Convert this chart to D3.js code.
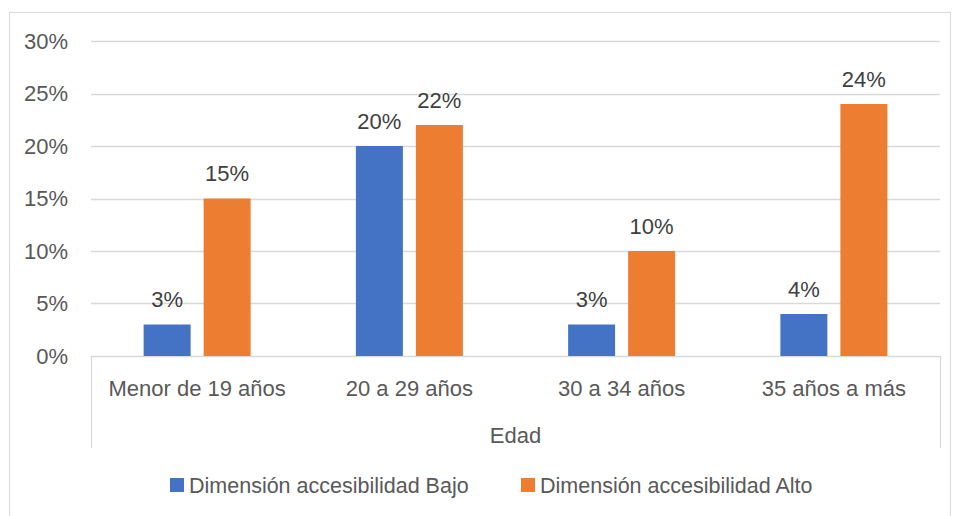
<!DOCTYPE html>
<html>
<head>
<meta charset="utf-8">
<script src="https://cdn.jsdelivr.net/npm/d3@7"></script>
<style>
  body { margin: 0; background: #fff; }
  svg text { font-family: "Liberation Sans", Arial, sans-serif; fill: #595959; }
</style>
</head>
<body>
<div id="chart"></div>
<script>
(function () {
    // Chart data
    const categories = ["Menor de 19 años", "20 a 29 años", "30 a 34 años", "35 años a más"];
    const seriesNames = ["Dimensión accesibilidad Bajo", "Dimensión accesibilidad Alto"];
    const bajoValues = [0.03, 0.20, 0.03, 0.04];
    const altoValues = [0.15, 0.22, 0.10, 0.24];
    const yTicks = [0, 0.05, 0.10, 0.15, 0.20, 0.25, 0.30];
    const colors = ["#4472C4", "#ED7D31"];

    const width = 956, height = 516;
    const plot = { left: 91, right: 940, top: 41, bottom: 356 };

    const svg = d3.select("#chart")
        .append("svg")
        .attr("width", width)
        .attr("height", height);

    // Outer frame
    svg.append("rect")
        .attr("x", 9.5).attr("y", 12.5)
        .attr("width", 941).attr("height", 510)
        .attr("fill", "none")
        .attr("stroke", "#D9D9D9");

    const x0 = d3.scaleBand()
        .domain(categories)
        .range([plot.left, plot.right])
        .paddingInner(0.496)
        .paddingOuter(0.248);

    const x1 = d3.scaleBand()
        .domain(seriesNames)
        .range([0, x0.bandwidth()])
        .paddingInner(0.217);

    const y = d3.scaleLinear()
        .domain([0, 0.3])
        .range([plot.bottom, plot.top]);

    // Gridlines
    svg.append("g")
        .selectAll("line")
        .data(yTicks)
        .enter()
        .append("line")
        .attr("x1", plot.left).attr("x2", plot.right)
        .attr("y1", d => Math.round(y(d)) + 0.5)
        .attr("y2", d => Math.round(y(d)) + 0.5)
        .attr("stroke", "#D9D9D9")
        .attr("stroke-width", 1.3);

    // Y tick labels
    svg.append("g")
        .selectAll("text")
        .data(yTicks)
        .enter()
        .append("text")
        .attr("x", 68)
        .attr("y", d => y(d))
        .attr("dy", "0.35em")
        .attr("text-anchor", "end")
        .attr("font-size", 22)
        .text(d => d3.format(".0%")(d));

    // Category axis box (vertical edges)
    svg.append("g")
        .selectAll("line")
        .data([plot.left, plot.right])
        .enter()
        .append("line")
        .attr("x1", d => d + 0.5).attr("x2", d => d + 0.5)
        .attr("y1", plot.bottom).attr("y2", 448)
        .attr("stroke", "#D9D9D9")
        .attr("stroke-width", 1.3);

    // Bars
    const rows = categories.map((c, i) => ({ cat: c, values: [bajoValues[i], altoValues[i]] }));

    const groups = svg.append("g")
        .selectAll("g")
        .data(rows)
        .enter()
        .append("g")
        .attr("transform", d => `translate(${x0(d.cat)},0)`);

    groups.selectAll("rect")
        .data(d => d.values.map((v, j) => ({ s: seriesNames[j], v: v, j: j })))
        .enter()
        .append("rect")
        .attr("x", d => x1(d.s))
        .attr("y", d => y(d.v))
        .attr("width", x1.bandwidth())
        .attr("height", d => y(0) - y(d.v))
        .attr("fill", d => colors[d.j]);

    // Value labels
    groups.selectAll("text")
        .data(d => d.values.map((v, j) => ({ s: seriesNames[j], v: v })))
        .enter()
        .append("text")
        .attr("x", d => x1(d.s) + x1.bandwidth() / 2)
        .attr("y", d => y(d.v) - 25)
        .attr("dy", "0.35em")
        .attr("text-anchor", "middle")
        .attr("font-size", 22)
        .style("fill", "#404040")
        .text(d => d3.format(".0%")(d.v));

    // Category labels
    svg.append("g")
        .selectAll("text")
        .data(categories)
        .enter()
        .append("text")
        .attr("x", d => x0(d) + x0.bandwidth() / 2)
        .attr("y", 388)
        .attr("dy", "0.35em")
        .attr("text-anchor", "middle")
        .attr("font-size", 22)
        .text(d => d);

    // Axis title
    svg.append("text")
        .attr("x", (plot.left + plot.right) / 2)
        .attr("y", 435)
        .attr("dy", "0.35em")
        .attr("text-anchor", "middle")
        .attr("font-size", 22)
        .text("Edad");

    // Legend
    const legendItems = [
        { name: seriesNames[0], color: colors[0], x: 170 },
        { name: seriesNames[1], color: colors[1], x: 521 }
    ];
    const legend = svg.append("g")
        .selectAll("g")
        .data(legendItems)
        .enter()
        .append("g")
        .attr("transform", d => `translate(${d.x},485)`);

    legend.append("rect")
        .attr("x", 0).attr("y", -7)
        .attr("width", 14).attr("height", 14)
        .attr("fill", d => d.color);

    legend.append("text")
        .attr("x", 19)
        .attr("y", 0)
        .attr("dy", "0.35em")
        .attr("font-size", 21.5)
        .text(d => d.name);
})();
</script>
</body>
</html>
